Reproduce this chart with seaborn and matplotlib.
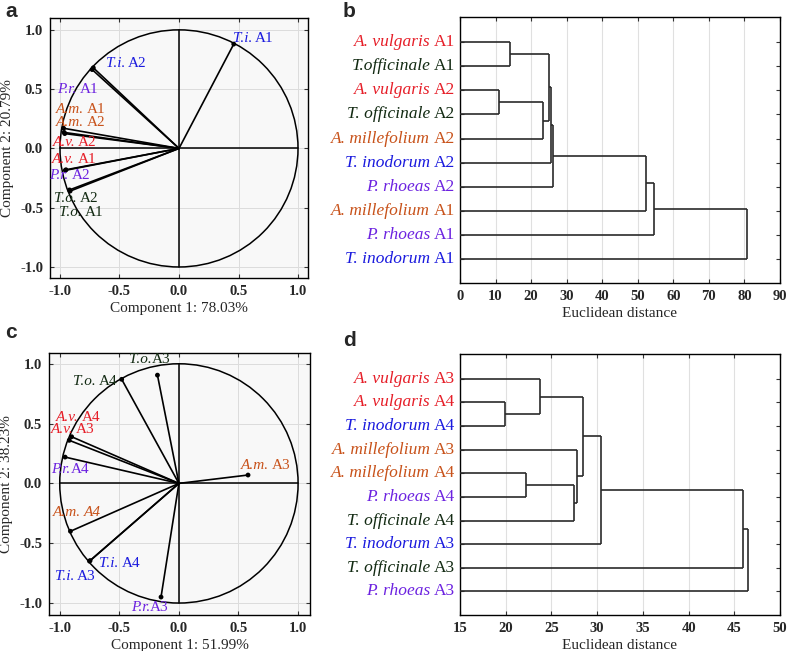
import numpy as np
import matplotlib
matplotlib.use("Agg")
import matplotlib.pyplot as plt
import matplotlib.transforms as mtransforms
from matplotlib.patches import Circle
import seaborn as sns
import pandas as pd

sns.set_style("ticks")
plt.rcParams['font.family'] = ['Liberation Serif', 'DejaVu Serif']

# ---------------- data ----------------
# Panel a: PCA loadings (A1, A2)
pca_a_abbr = ["T.i.", "T.i.", "P.r.", "A.m.", "A.m.", "A.v.", "A.v.", "P.r.", "T.o.", "T.o."]
pca_a_code = ["A1", "A2", "A1", "A1", "A2", "A2", "A1", "A2", "A2", "A1"]
pca_a_x = [0.46, -0.72, -0.73, -0.97, -0.965, -0.96, -0.955, -0.95, -0.92, -0.915]
pca_a_y = [0.88, 0.68, 0.665, 0.17, 0.135, 0.125, -0.185, -0.18, -0.35, -0.36]
pca_a_xlabel = "Component 1: 78.03%"
pca_a_ylabel = "Component 2: 20.79%"

# Panel c: PCA loadings (A3, A4)
pca_c_abbr = ["T.o.", "T.o.", "A.v.", "A.v.", "P.r.", "A.m.", "A.m.", "T.i.", "T.i.", "P.r."]
pca_c_code = ["A3", "A4", "A4", "A3", "A4", "A3", "A4", "A4", "A3", "A3"]
pca_c_x = [-0.18, -0.48, -0.90, -0.92, -0.955, 0.58, -0.91, -0.745, -0.75, -0.15]
pca_c_y = [0.905, 0.87, 0.39, 0.36, 0.22, 0.07, -0.40, -0.645, -0.65, -0.95]
pca_c_xlabel = "Component 1: 51.99%"
pca_c_ylabel = "Component 2: 38.23%"

# Panel b: dendrogram (A1, A2)
dend_b_species = ["A. vulgaris", "T.officinale", "A. vulgaris", "T. officinale", "A. millefolium",
                  "T. inodorum", "P. rhoeas", "A. millefolium", "P. rhoeas", "T. inodorum"]
dend_b_code = ["A1", "A1", "A2", "A2", "A2", "A2", "A2", "A1", "A1", "A1"]
dend_b_left = [0, 2, 11, 10, 13, 14, 15, 16, 17]
dend_b_right = [1, 3, 4, 12, 5, 6, 7, 8, 9]
dend_b_height = [14.2, 11.1, 23.4, 25.0, 25.5, 26.2, 52.2, 54.5, 80.8]

# Panel d: dendrogram (A3, A4)
dend_d_species = ["A. vulgaris", "A. vulgaris", "T. inodorum", "A. millefolium", "A. millefolium",
                  "P. rhoeas", "T. officinale", "T. inodorum", "T. officinale", "P. rhoeas"]
dend_d_code = ["A3", "A4", "A4", "A3", "A4", "A4", "A4", "A3", "A3", "A3"]
dend_d_left = [1, 0, 4, 12, 3, 11, 15, 16, 17]
dend_d_right = [2, 10, 5, 6, 13, 14, 7, 8, 9]
dend_d_height = [19.9, 23.7, 22.2, 27.5, 27.8, 28.4, 30.4, 46.0, 46.5]

# ---------------- styles ----------------
colors = {"A.v.": "#e61e28", "T.o.": "#122a12", "A.m.": "#c8521a", "T.i.": "#1a1ade", "P.r.": "#6c22e0"}
species_abbr = {"A. vulgaris": "A.v.", "T.officinale": "T.o.", "T. officinale": "T.o.",
                "A. millefolium": "A.m.", "T. inodorum": "T.i.", "P. rhoeas": "P.r."}

# label placement (data coords of text left / vertical center), gap after abbreviation (em),
# and whether the code is italic too
lab_a_pos = [(0.453, 0.93), (-0.617, 0.718), (-1.022, 0.50), (-1.033, 0.33), (-1.033, 0.222),
             (-1.064, 0.048), (-1.069, -0.093), (-1.089, -0.231), (-1.05, -0.425), (-1.006, -0.538)]
lab_a_gap = [0.2] * 10
lab_a_itcode = [False] * 10
lab_c_pos = [(-0.417, 1.036), (-0.889, 0.849), (-1.033, 0.555), (-1.078, 0.448), (-1.069, 0.12),
             (0.519, 0.148), (-1.056, -0.246), (-0.667, -0.672), (-1.042, -0.779), (-0.403, -1.036)]
lab_c_gap = [0.0, 0.2, 0.2, 0.2, 0.0, 0.2, 0.2, 0.2, 0.2, 0.0]
lab_c_itcode = [False] * 6 + [True] + [False] * 3

W, H = 787, 651
fig = plt.figure(figsize=(W / 100, H / 100), dpi=100)
renderer = fig.canvas.get_renderer()


def rect(l, t, r, b):
    return [l / W, 1 - b / H, (r - l) / W, (b - t) / H]


ax_a = fig.add_axes(rect(50, 18, 308, 278))
ax_b = fig.add_axes(rect(460, 17, 780, 283))
ax_c = fig.add_axes(rect(49, 353, 310, 615))
ax_d = fig.add_axes(rect(460, 354, 780, 615))

TICKFONT = dict(fontsize=10.5, fontweight='bold')


def text_width(t):
    return t.get_window_extent(renderer).width


def label_left(ax, x, y, italic, upright, color, size, transform, gap_em, it_code):
    t1 = ax.text(x, y, italic, color=color, fontsize=size, style='italic',
                 ha='left', va='center', transform=transform, zorder=5)
    w = text_width(t1) + size * gap_em * 100 / 72
    tr = mtransforms.offset_copy(transform, fig=fig, x=w, y=0, units='dots')
    ax.text(x, y, upright, color=color, fontsize=size, ha='left', va='center', transform=tr,
            zorder=5, style='italic' if it_code else 'normal')


def label_right(ax, x, y, italic, upright, color, size, transform, pad):
    tr2 = mtransforms.offset_copy(transform, fig=fig, x=-pad, y=0, units='dots')
    t2 = ax.text(x, y, upright, color=color, fontsize=size, ha='right', va='center',
                 transform=tr2, clip_on=False)
    w = text_width(t2) + size * 0.2 * 100 / 72
    tr1 = mtransforms.offset_copy(transform, fig=fig, x=-pad - w, y=0, units='dots')
    ax.text(x, y, italic, color=color, fontsize=size, style='italic', ha='right', va='center',
            transform=tr1, clip_on=False)


def pca_panel(ax, abbr, code, xs, ys, lab_pos, gaps, itcodes, xlabel, ylabel, xlim, ylim):
    ax.set_facecolor("#f8f8f8")
    ax.set_xlim(*xlim)
    ax.set_ylim(*ylim)
    ticks = [-1.0, -0.5, 0.0, 0.5, 1.0]
    ax.set_xticks(ticks)
    ax.set_yticks(ticks)
    ax.set_xticklabels([f"{t:.1f}" for t in ticks], **TICKFONT)
    ax.set_yticklabels([f"{t:.1f}" for t in ticks], **TICKFONT)
    ax.grid(True, color="#dcdcdc", lw=0.7)
    ax.set_axisbelow(True)
    ax.tick_params(direction='in', length=3, width=0.8, top=True, right=True, pad=5, color='#333333')
    for s in ax.spines.values():
        s.set_color('black')
        s.set_linewidth(1.0)
    ax.add_patch(Circle((0, 0), 1.0, fill=False, ec='black', lw=1.1, zorder=2))
    ax.plot([-1, 1], [0, 0], color='black', lw=1.1, zorder=2)
    ax.plot([0, 0], [-1, 1], color='black', lw=1.1, zorder=2)
    for x, y in zip(xs, ys):
        ax.plot([0, x], [0, y], color='black', lw=1.2, zorder=3)
    df = pd.DataFrame({"x": xs, "y": ys})
    sns.scatterplot(data=df, x="x", y="y", ax=ax, color='black', s=12, zorder=4, edgecolor='none', legend=False)
    for a, c, (lx, ly), g, ic in zip(abbr, code, lab_pos, gaps, itcodes):
        label_left(ax, lx, ly, a, c, colors[a], 11, ax.transData, g, ic)
    ax.set_xlabel(xlabel, fontsize=11, labelpad=3)
    ax.set_ylabel(ylabel, fontsize=11, labelpad=4)


pca_panel(ax_a, pca_a_abbr, pca_a_code, pca_a_x, pca_a_y, lab_a_pos, lab_a_gap, lab_a_itcode,
          pca_a_xlabel, pca_a_ylabel, (-1.084, 1.084), (-1.093, 1.10))
pca_panel(ax_c, pca_c_abbr, pca_c_code, pca_c_x, pca_c_y, lab_c_pos, lab_c_gap, lab_c_itcode,
          pca_c_xlabel, pca_c_ylabel, (-1.09, 1.10), (-1.10, 1.09))


def dend_panel(ax, species, code, lefts, rights, heights, xlim, xticks):
    n = len(species)
    xpos = {i: 0.0 for i in range(n)}
    ypos = {i: float(i) for i in range(n)}
    rows = []
    for k, (l, r, h) in enumerate(zip(lefts, rights, heights)):
        node = n + k
        rows.append(([xpos[l], h], [ypos[l], ypos[l]]))
        rows.append(([xpos[r], h], [ypos[r], ypos[r]]))
        rows.append(([h, h], [ypos[l], ypos[r]]))
        xpos[node] = h
        ypos[node] = (ypos[l] + ypos[r]) / 2
    for xx, yy in rows:
        ax.plot(xx, yy, color='#2a2a2a', lw=1.2, solid_capstyle='butt', zorder=3)
    ax.set_xlim(*xlim)
    ax.set_ylim(10.0, -1.05)
    ax.set_xticks(xticks)
    ax.set_xticklabels([str(t) for t in xticks], **TICKFONT)
    ax.set_yticks(range(n))
    ax.set_yticklabels([])
    tr = mtransforms.blended_transform_factory(ax.transAxes, ax.transData)
    for i, (s, c) in enumerate(zip(species, code)):
        label_right(ax, 0.0, i, s, c, colors[species_abbr[s]], 12.5, tr, 5)
    ax.grid(True, axis='x', color="#e0e0e0", lw=0.8)
    ax.grid(False, axis='y')
    ax.set_axisbelow(True)
    ax.tick_params(direction='in', length=3, width=0.8, top=True, right=True, color='#333333')
    ax.tick_params(axis='x', pad=5)
    for s in ax.spines.values():
        s.set_color('black')
        s.set_linewidth(1.0)
    ax.set_xlabel("Euclidean distance", fontsize=11, labelpad=3)


dend_panel(ax_b, dend_b_species, dend_b_code, dend_b_left, dend_b_right, dend_b_height,
           (0, 90), list(range(0, 91, 10)))
dend_panel(ax_d, dend_d_species, dend_d_code, dend_d_left, dend_d_right, dend_d_height,
           (15, 50), list(range(15, 51, 5)))

for lab, (x, y) in zip(["a", "b", "c", "d"], [(5, 2), (343, 2), (5, 323), (343, 331)]):
    fig.text(x / W, 1 - y / H, lab, fontsize=15, fontweight='bold', family='Liberation Sans',
             ha='left', va='top')

fig.savefig("out.png", dpi=100)
